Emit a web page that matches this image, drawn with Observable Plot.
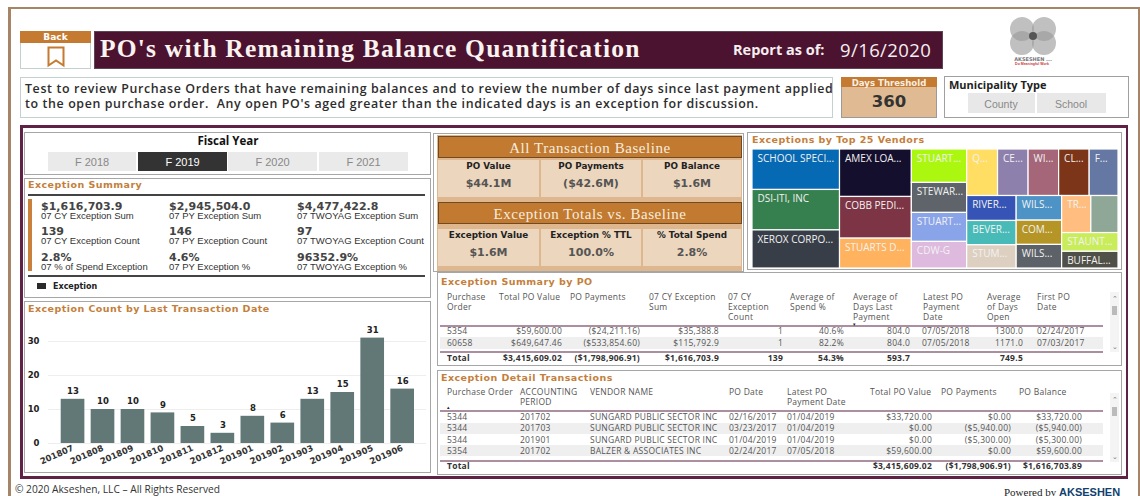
<!DOCTYPE html>
<html><head><meta charset="utf-8">
<script src="https://cdn.jsdelivr.net/npm/d3@7"></script>
<script src="https://cdn.jsdelivr.net/npm/@observablehq/plot@0.6"></script>
<style>
html,body{margin:0;padding:0;background:#fff;width:1140px;height:496px;overflow:hidden}
#root{position:relative;width:1140px;height:496px;overflow:hidden}
.a{position:absolute;box-sizing:border-box}
.t{position:absolute;white-space:nowrap;line-height:1}
.dj{font-family:"DejaVu Sans",sans-serif;font-weight:700}
.os{font-family:"Open Sans",sans-serif}
.ar{font-family:"Liberation Sans",sans-serif}
.se{font-family:"Liberation Serif",serif}
.sec{font-family:"DejaVu Sans",sans-serif;font-weight:700;color:#c47f3c;font-size:9.5px;letter-spacing:.45px}
.box{border:1px solid #a6a6a6;background:#fff}
svg{display:block;overflow:visible}
</style></head><body><div id="root"></div>
<script>
// ---- bar chart data
const periods=["201807","201808","201809","201810","201811","201812","201901","201902","201903","201904","201905","201906"];
const exceptionCounts=[13,10,10,9,5,3,8,6,13,15,31,16];
const yTicks=[0,10,20,30];
// ---- treemap data
const vendorNames=["SCHOOL SPECI...","DSI-ITI, INC","XEROX CORPO...","AMEX LOA...","COBB PEDI...","STUARTS D...","STUART...","STEWAR...","STUART...","CDW-G","Q...","CE...","WI...","CL...","F...","RIVER...","BEVER...","STUM...","WILS...","COM...","WILS...","TR...","","STAUNT...","BUFFAL..."];
const vendorValues=[30960,30960,29154,29820,26199,18744,16170,14520,14025,12870,12558,12420,12420,12420,11730,10804,10508,10064,9792,9656,9384,9460,8800,9240,8232];
const vendorNesting=[[0,1,2],[3,4,5],[6,7,8,9],[[10,11,12,13,14],[[15,16,17],[18,19,20],[[21,22],23,24]]]];
const vendorColors=["#0569b4","#36804f","#383e48","#150f2e","#7d3545","#ffb35f","#abf70f","#5e6469","#8aa4e9","#dfbadf","#ffde63","#8e80ad","#a56679","#7c3518","#6577a3","#3554b5","#48bbb8","#ddd0c0","#4d93c6","#b59526","#5d6269","#ffbe80","#8fa797","#c9ec5a","#4f5047"];
// ---- KPI data
const summaryValues=["$1,616,703.9","$2,945,504.0","$4,477,422.8","139","146","97","2.8%","4.6%","96352.9%"];
const summaryLabels=["07 CY Exception Sum","07 PY Exception Sum","07 TWOYAG Exception Sum","07 CY Exception Count","07 PY Exception Count","07 TWOYAG Exception Count","07 % of Spend Exception","07 PY Exception %","07 TWOYAG Exception %"];
const fiscalYears=["F 2018","F 2019","F 2020","F 2021"];
const baselineLabels=["PO Value","PO Payments","PO Balance"];
const baselineValues=["$44.1M","($42.6M)","$1.6M"];
const totalsLabels=["Exception Value","Exception % TTL","% Total Spend"];
const totalsValues=["$1.6M","100.0%","2.8%"];
// ---- table data
const poHeaders=[["Purchase","Order"],["Total PO Value"],["PO Payments"],["07 CY Exception","Sum"],["07 CY","Exception","Count"],["Average of","Spend %"],["Average of","Days Last","Payment"],["Latest PO","Payment","Date"],["Average","of Days","Open"],["First PO","Date"]];
const poRows=[["5354","$59,600.00","($24,211.16)","$35,388.8","1","40.6%","804.0","07/05/2018","1300.0","02/24/2017"],["60658","$649,647.46","($533,854.60)","$115,792.9","1","82.2%","804.0","07/05/2018","1171.0","07/03/2017"]];
const poTotal=["Total","$3,415,609.02","($1,798,906.91)","$1,616,703.9","139","54.3%","593.7","","749.5",""];
const detailHeaders=[["Purchase Order"],["ACCOUNTING","PERIOD"],["VENDOR NAME"],["PO Date"],["Latest PO","Payment Date"],["Total PO Value"],["PO Payments"],["PO Balance"]];
const detailRows=[["5344","201702","SUNGARD PUBLIC SECTOR INC","02/16/2017","01/04/2019","$33,720.00","$0.00","$33,720.00"],["5344","201703","SUNGARD PUBLIC SECTOR INC","03/23/2017","01/04/2019","$0.00","($5,940.00)","($5,940.00)"],["5344","201901","SUNGARD PUBLIC SECTOR INC","01/04/2019","01/04/2019","$0.00","($5,300.00)","($5,300.00)"],["5354","201702","BALZER & ASSOCIATES INC","02/24/2017","07/05/2018","$59,600.00","$0.00","$59,600.00"]];
const detailTotal=["Total","","","","","$3,415,609.02","($1,798,906.91)","$1,616,703.89"];

const root=document.getElementById("root");
function box(x,y,w,h,style="",cls=""){const d=document.createElement("div");d.className="a "+cls;d.style.cssText=`left:${x}px;top:${y}px;width:${w}px;height:${h}px;${style}`;root.appendChild(d);return d;}
// cy = vertical centre; align l/c/r relative to x
function txt(x,cy,s,cls,style="",align="l"){const d=document.createElement("div");d.className="t "+cls;d.textContent=s;
 const tx=align==="l"?"0":align==="c"?"-50%":"-100%";
 d.style.cssText=`left:${x}px;top:${cy}px;transform:translate(${tx},-50%);${style}`;root.appendChild(d);return d;}

// page frame
box(8,7,1132,495,"border:2px solid #a58468;border-left-width:3px;border-bottom:none");
// header
box(20,31,71,38,"border:1px solid #c5cfcf;background:#fff");
box(20,31,71,12,"background:#c47a30");
txt(55.5,37,"Back","dj","font-size:9px;color:#fff;","c");
const mk=box(47,46,18,21,"");mk.innerHTML='<svg width="18" height="21"><path d="M1.5 1.5H16.5V19.5L9 14.5L1.5 19.5Z" fill="none" stroke="#c47a30" stroke-width="2"/></svg>';
box(94,31,849,38,"background:#4b132f;border:1px solid #5d4555");
txt(100,48.5,"PO's with Remaining Balance Quantification","se","font-size:25.5px;font-weight:700;color:#fbf3f0;letter-spacing:1.2px");
txt(733,50,"Report as of:","os","font-size:14.5px;font-weight:700;color:#f6eef0");
txt(840,49.5,"9/16/2020","os","font-size:18.5px;color:#f6eef0;letter-spacing:.4px");
const lg=box(1008,17,50,38,"");lg.innerHTML='<svg width="50" height="38"><g fill="#999" fill-opacity=".62"><circle cx="14" cy="12" r="12"/><circle cx="36" cy="12" r="12"/><circle cx="14" cy="26" r="12"/><circle cx="36" cy="26" r="12"/></g><circle cx="25" cy="19" r="4" fill="#555"/></svg>';
txt(1033,59,"AKSESHEN ...","dj","font-size:5px;color:#777","c");
txt(1032,64.5,"Do Meaningful Work","ar","font-size:3.5px;color:#c33;font-weight:700","c");
// description
box(20,77,813,41,"border:1px solid #c5d0d0;background:#fff");
txt(25,88.5,"Test to review Purchase Orders that have remaining balances and to review the number of days since last payment applied","os","font-size:12.4px;letter-spacing:.62px;font-weight:600;color:#2d2d2d");
txt(25,103.5,"to the open purchase order.  Any open PO's aged greater than the indicated days is an exception for discussion.","os","font-size:12.4px;letter-spacing:.62px;font-weight:600;color:#2d2d2d;white-space:pre");
// days threshold
box(841,77,96,41,"background:#e0ba92;border:1px solid #9a9a9a");
box(841,77,96,10,"background:#c47a30");
txt(889,82.5,"Days Threshold","dj","font-size:8.6px;color:#f7efe6","c");
txt(889,102,"360","dj","font-size:16.5px;color:#333","c");
// municipality
box(944,76,185,42,"border:1px solid #a0a0a0;background:#fff");
txt(949,84,"Municipality Type","os","font-size:11px;font-weight:700;color:#222");
box(968,93,67,20,"background:#e8e8e8");box(1037,93,69,20,"background:#e8e8e8");
txt(1001,104,"County","ar","font-size:10.5px;color:#888","c");
txt(1071,104,"School","ar","font-size:10.5px;color:#888","c");
// main frame
box(20,125,1108,354,"border:3px solid #5f2245;border-right-width:2px;background:#fff");

// fiscal year
box(24,132,407,43,"","box");
txt(228,141,"Fiscal Year","os","font-size:11.5px;font-weight:700;color:#111","c");
const fx=[48,138,228,319],fw=[88,89,89,89];
fiscalYears.forEach((f,i)=>{const sel=i===1;box(fx[i],152,fw[i],19,`background:${sel?"#333":"#eaeaea"}`);
 txt(fx[i]+fw[i]/2,161.5,f,"ar",`font-size:11px;color:${sel?"#fff":"#888"}`,"c");});
// exception summary
box(24,178,407,120,"","box");
txt(28,185,"Exception Summary","sec");
box(28,194,397,1.5,"background:#444");
box(28,199,4,72,"background:#c8803a");
box(28,275,397,1.5,"background:#444");
const colX=[41,169,297],rowY=[206,231,257];
summaryValues.forEach((v,i)=>{const c=i%3,r=Math.floor(i/3);
 txt(colX[c],rowY[r],v,"dj","font-size:11px;color:#444");
 txt(colX[c],rowY[r]+10,summaryLabels[i],"ar","font-size:9.5px;color:#333");});
box(37,283,9,6,"background:#2b2b2b");
txt(53,287,"Exception","dj","font-size:8px;color:#222");
// bar chart box
box(24,301,407,172,"","box");
txt(28,309,"Exception Count by Last Transaction Date","sec");
const barHost=box(24,301,407,172,"");
const barData=periods.map((p,i)=>({period:p,count:exceptionCounts[i]}));
barHost.appendChild(Plot.plot({
 width:407,height:172,marginLeft:24,marginRight:5,marginTop:23,marginBottom:30,
 style:{background:"transparent",fontFamily:"DejaVu Sans",fontSize:"8.5px"},
 x:{domain:periods,range:[36.7,390],paddingInner:.21,paddingOuter:0,round:false,label:null},
 y:{domain:[0,35],label:null},
 marks:[
  Plot.gridY(yTicks,{stroke:"#eeeeee",strokeOpacity:1}),
  Plot.axisY({ticks:yTicks,tickSize:0,tickPadding:9,fontWeight:700,fill:"#222",label:null}),
  Plot.axisX({tickSize:0,tickPadding:4,tickRotate:-24,fontWeight:700,fill:"#333",label:null}),
  Plot.barY(barData,{x:"period",y:"count",fill:"#627877"}),
  Plot.text(barData,{x:"period",y:"count",text:d=>String(d.count),dy:-8,fontWeight:700,fill:"#222"})
 ]}));

// baseline panel
box(433,133,311,139,"","box");
box(437,135,305,136,"background:#dfb78e");
function kpiBlock(title,labels,values,hy,cy){
 box(438,hy,304,22,"background:#c17a30;border:1px solid #6f4a25");
 txt(590,hy+11.5,title,"se","font-size:15px;color:#f7ecdf;letter-spacing:.55px","c");
 const xs=[438,541,643],ws=[101,100,98];
 labels.forEach((l,i)=>{box(xs[i],cy,ws[i],37,"background:#ecd6bd");
  txt(xs[i]+ws[i]/2,cy+5.5,l,"dj","font-size:8.8px;color:#222","c");
  txt(xs[i]+ws[i]/2,cy+23,values[i],"dj","font-size:11px;color:#555","c");});
}
kpiBlock("All Transaction Baseline",baselineLabels,baselineValues,136,160);
kpiBlock("Exception Totals vs. Baseline",totalsLabels,totalsValues,202,229);

// treemap box
box(747,132,375,138,"","box");
txt(752,140,"Exceptions by Top 25 Vendors","sec");
const TW=366,TH=119;
const nest=n=>Array.isArray(n)?{children:n.map(nest)}:{index:n,value:vendorValues[n]};
const h=d3.hierarchy(nest(vendorNesting)).sum(d=>d.value||0);
d3.treemap().size([TW,TH]).tile(d3.treemapSliceDice)(h);
const cells=h.leaves().map(l=>({x1:l.x0,x2:l.x1,y1:l.y0,y2:l.y1,name:vendorNames[l.data.index],color:vendorColors[l.data.index]}));
const tmHost=box(752,149,TW,TH,"");
tmHost.appendChild(Plot.plot({
 width:TW,height:TH,margin:0,
 style:{background:"transparent"},
 x:{type:"identity",axis:null},y:{type:"identity",axis:null},
 marks:[
  Plot.rect(cells,{x1:"x1",x2:"x2",y1:"y1",y2:"y2",fill:"color",stroke:"#fff",strokeWidth:1.2}),
  Plot.text(cells,{x:"x1",y:"y1",text:"name",dx:5,dy:9,textAnchor:"start",fill:"#f2f2f2",fontFamily:"Open Sans",fontSize:10})
 ]}));

// tables
const tf="font-size:8.5px;letter-spacing:.25px;";
function table(title,top,bottom,titleY,headers,hx,hy,ruleY,rows,rowY,colX,aligns,bandTop,totalRuleY,total,totalY){
 box(437,top,685,bottom-top,"","box");
 txt(441,titleY,title,"sec");
 headers.forEach((ls,i)=>ls.forEach((l,j)=>txt(hx[i],hy+j*10,l,"os",tf+"color:#555")));
 box(440,ruleY,663,1.5,"background:#ab8fa0");
 bandTop.forEach(b=>box(440,b[0],663,b[1],"background:#efefef"));
 rows.forEach((r,ri)=>r.forEach((c,i)=>txt(colX[i],rowY[ri],c,"os",tf+"color:#555",aligns[i])));
 box(440,totalRuleY,663,1.5,"background:#ab8fa0");
 total.forEach((c,i)=>{if(c)txt(colX[i],totalY,c,"os",tf+"font-weight:700;color:#333",aligns[i]);});
}
table("Exception Summary by PO",272,366,282,poHeaders,
 [447,499,570,649,728,790,853,923,987,1037],297,325,poRows,[331,343],
 [447,562,640,719,783,844,910,922,1023,1037],["l","r","r","r","r","r","r","l","r","l"],
 [[337,12]],351,poTotal,358);
txt(853,324.5,"▾","ar","font-size:4.5px;color:#222");
table("Exception Detail Transactions",370,475,378,detailHeaders,
 [447,520,590,729,787,870,941,1019],392,410,detailRows,[416.5,428,440,451],
 [447,520,590,729,787,932,1011,1082],["l","l","l","l","l","r","r","r"],
 [[423,11],[445,11]],460,detailTotal,466);
txt(447,406.5,"▴","ar","font-size:5px;color:#222");
// scrollbars
[[292,352],[393,462]].forEach(([a,b])=>{box(1110,a,9,b-a,"background:#f4f4f4");
 txt(1114.5,a+6,"⌃","ar","font-size:7px;color:#777","c");txt(1114.5,b-6,"⌄","ar","font-size:7px;color:#777","c");box(1112,a+14,5,9,"background:#bbb");});
// footer
txt(15,489,"© 2020 Akseshen, LLC – All Rights Reserved","os","font-size:10.2px;color:#333");
const pw=txt(1004,491.5,"Powered by ","se","font-size:11px;color:#222;white-space:pre");
const pb=document.createElement("b");pb.textContent="AKSESHEN";pb.style.cssText="font-family:'Liberation Sans',sans-serif;color:#123f6d";pw.appendChild(pb);
</script></body></html>
